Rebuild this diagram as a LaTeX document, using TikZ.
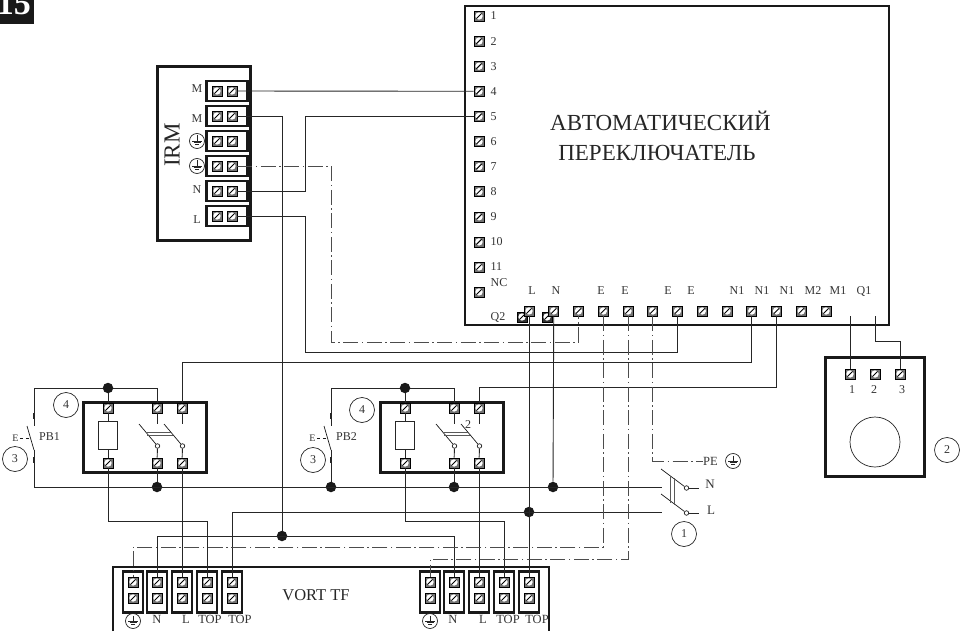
\documentclass[tikz,border=0pt]{standalone}
\usepackage{fontspec}
\setmainfont{Liberation Serif}

\tikzset{
    term/.style={rectangle, draw=black, fill=black!55, minimum size=10pt, inner sep=0pt, line width=0.6pt,
        path picture={
            \fill[white] (path picture bounding box.center) circle (3.7pt);
            \draw[black, line width=1pt] ([xshift=-2.6pt,yshift=-2.6pt]path picture bounding box.center) -- ([xshift=2.6pt,yshift=2.6pt]path picture bounding box.center);
        }},
    box/.style={rectangle, draw=black!90, line width=2.6pt, inner sep=0pt},
    stripbox/.style={box, minimum width=41pt, minimum height=20pt},
    vstripbox/.style={box, minimum width=20pt, minimum height=41pt},
    wire/.style={draw=black!85, line width=0.9pt},
    earthwire/.style={draw=black!70, line width=0.9pt, dash pattern=on 15pt off 3.5pt on 1.5pt off 3.5pt},
    heavy/.style={draw=black!85, line width=2pt},
    lever/.style={draw=black!90, line width=0.7pt},
    bar/.style={draw=black!65, line width=0.8pt},
    junction/.style={circle, fill=black!90, inner sep=0pt, minimum size=10.5pt},
    contact/.style={circle, draw=black!90, fill=white, inner sep=0pt, minimum size=4.5pt, line width=0.7pt},
    numcircle/.style={circle, draw=black!85, line width=0.7pt, inner sep=0pt, minimum size=25pt, font=\fontsize{12}{14}\selectfont, text=black!80},
    lbl/.style={font=\fontsize{12}{14}\selectfont, text=black!80, inner sep=1pt},
    gnd/.style={circle, draw=black!85, line width=0.7pt, inner sep=0pt, minimum size=15pt,
        path picture={
            \draw[black!85, line width=0.6pt] ([yshift=5.5pt]path picture bounding box.center) -- (path picture bounding box.center);
            \draw[black!85, line width=0.7pt] ([xshift=-5pt]path picture bounding box.center) -- ([xshift=5pt]path picture bounding box.center);
            \draw[black!85, line width=0.7pt] ([xshift=-3.5pt,yshift=-1.8pt]path picture bounding box.center) -- ([xshift=3.5pt,yshift=-1.8pt]path picture bounding box.center);
            \draw[black!85, line width=0.7pt] ([xshift=-2pt,yshift=-3.6pt]path picture bounding box.center) -- ([xshift=2pt,yshift=-3.6pt]path picture bounding box.center);
        }},
}

\begin{document}
\begin{tikzpicture}[x=1pt,y=-1pt]

\useasboundingbox (0,0) rectangle (965,631);

% Corner tab with the figure number
\begin{scope}
\clip (0,0) rectangle (34,24);
\fill[black!90] (0,0) rectangle (34,24);
\node[anchor=base, text=white, font=\fontsize{34}{34}\selectfont\bfseries, inner sep=0pt] (tab) at (14,15) {15};
\end{scope}

%%%%%%%%%%%%%%%%%%%% Automatic switch %%%%%%%%%%%%%%%%%%%%%%%%%%

\node[box, minimum width=424pt, minimum height=319pt] (ats) at (677,165.5) {};
\node[font=\fontsize{23}{26}\selectfont, text=black!85, inner sep=0pt] (atstexta) at (660.5,121) {АВТОМАТИЧЕСКИЙ};
\node[font=\fontsize{23}{26}\selectfont, text=black!85, inner sep=0pt] (atstextb) at (657,153) {ПЕРЕКЛЮЧАТЕЛЬ};

%bottom terminals
\node[term, fill=black!80] (q1) at (522,317) {};
\node[term, fill=black!80] (q2) at (547,317) {};
\foreach \index in {1,...,13}
{
    \node[term] (b\index) at ({529+(\index-1)*24.75},311) {};
}
\node[lbl] (q2label) at (498,317) {Q2};

%left terminals
\foreach \index in {1,...,11}
{
    \node[term, label={[lbl, label distance=5pt]right:\index}] (s\index) at (479,{16+(\index-1)*25.1}) {};
}
\node[term] (s12) at (479,292) {};
\node[lbl] (nclabel) at (499,283) {NC};

%bottom labels
\foreach \index/\xpos/\txt in {1/532/L, 2/556/N, 3/601/E, 4/625/E, 5/668/E, 6/691/E, 7/737/N1, 8/762/N1, 9/787/N1, 10/813/M2, 11/838/M1, 12/864/Q1}
{
    \node[lbl] (blabel\index) at (\xpos,291) {\txt};
}

%%%%%%%%%%%%%%%%%%%% IRM %%%%%%%%%%%%%%%%%%%%%%%%%%

\node[box, minimum width=93pt, minimum height=174pt] (irm) at (204,153.5) {};
\node[rotate=90, font=\fontsize{23}{25}\selectfont, text=black!85, inner sep=0pt] (irmtext) at (172,145) {IRM};

\foreach \index in {1,...,6}
{
    \node[stripbox] (irmstrip\index) at (227,{91+(\index-1)*25}) {};
    \node[term] (irma\index) at (217,{91+(\index-1)*25}) {};
    \node[term] (irmb\index) at (232,{91+(\index-1)*25}) {};
}

\node[lbl] (irml1) at (197,89) {M};
\node[lbl] (irml2) at (197,119) {M};
\node[gnd] (irml3) at (197,141) {};
\node[gnd] (irml4) at (197,166) {};
\node[lbl] (irml5) at (197,190) {N};
\node[lbl] (irml6) at (197,220) {L};

%%%%%%%%%%%%%%%%%%%% Selector %%%%%%%%%%%%%%%%%%%%%%%%%%

\node[box, minimum width=99pt, minimum height=119pt] (sel) at (875,417) {};
\node[circle, draw=black!85, line width=0.7pt, minimum size=50pt, inner sep=0pt] (knob) at (875,442) {};
\foreach \index/\xpos in {1/852, 2/874, 3/902}
{
    \node[term] (k\index) at ({850+(\index-1)*25},374) {};
    \node[lbl] (klabel\index) at (\xpos,390) {\index};
}
\node[numcircle] (n2) at (947,450) {2};

%%%%%%%%%%%%%%%%%%%% Relays and push buttons %%%%%%%%%%%%%%%%%%%%%%%%%%

\foreach \index/\xo/\xc/\yc/\xf/\yf in {1/0/15/459/66/405, 2/297/313/460/362/410}
{
    \node[box, minimum width=123pt, minimum height=70pt] (relay\index) at ({145+\xo},437.5) {};

    % top and bottom terminals
    \node[term] (ra\index) at ({108+\xo},408) {};
    \node[term] (rb\index) at ({157+\xo},408) {};
    \node[term] (rc\index) at ({182+\xo},408) {};
    \node[term] (rd\index) at ({108+\xo},463) {};
    \node[term] (re\index) at ({157+\xo},463) {};
    \node[term] (rf\index) at ({182+\xo},463) {};

    % coil
    \node[rectangle, draw=black!85, line width=0.8pt, minimum width=19pt, minimum height=28pt, inner sep=0pt] (coil\index) at ({108+\xo},435) {};
    \path [wire] (ra\index) edge (coil\index);
    \path [wire] (coil\index) edge (rd\index);

    % changeover contacts
    \node[contact] (cb\index) at ({157.5+\xo},446) {};
    \node[contact] (cc\index) at ({182.5+\xo},446) {};
    \draw[wire] (rb\index) -- ({157+\xo},424);
    \draw[wire] (rc\index) -- ({182+\xo},424);
    \draw[wire] (cb\index) -- (re\index);
    \draw[wire] (cc\index) -- (rf\index);
    \draw[lever] ({139+\xo},424) -- (cb\index);
    \draw[lever] ({164+\xo},424) -- (cc\index);
    \draw[bar] ({146+\xo},432) -- ({172+\xo},432);
    \draw[bar] ({147+\xo},435) -- ({173+\xo},435);

    % push button
    \node[lbl, font=\fontsize{10}{12}\selectfont] (pe\index) at ({15.5+\xo},438) {E};
    \node[lbl, anchor=west] (pb\index) at ({38+\xo},437) {PB\index};
    \coordinate (pbtop\index) at ({34+\xo},388);
    \coordinate (pbup\index) at ({34+\xo},426);
    \coordinate (pblow\index) at ({34+\xo},450);
    \coordinate (pbend\index) at ({34+\xo},487);
    \draw[wire] (rb\index) |- (pbtop\index) -- (pbup\index);
    \draw[wire] (pblow\index) -- (pbend\index);
    \draw[lever] ({27+\xo},426) -- (pblow\index);
    \draw[heavy] ({34+\xo},413) -- ({34+\xo},419);
    \draw[heavy] ({34+\xo},457) -- ({34+\xo},463);
    \draw[lever, dashed] (pe\index) -- ({31+\xo},438);

    % top junction
    \node[junction] (jt\index) at ({108+\xo},388) {};
    \path [wire] (jt\index) edge (ra\index);

    % numbered marks
    \node[numcircle] (n3\index) at (\xc,\yc) {3};
    \node[numcircle] (n4\index) at (\xf,\yf) {4};
}
\node[lbl] (two) at (468,425) {2};

%%%%%%%%%%%%%%%%%%%% VORT TF %%%%%%%%%%%%%%%%%%%%%%%%%%

\draw[box] (113,631) -- (113,567) -- (549,567) -- (549,631);
\node[font=\fontsize{16.5}{18}\selectfont, text=black!85, inner sep=0pt] (vort) at (316,595) {VORT TF};

\foreach \index/\xpos in {1/133, 2/157, 3/182, 4/207, 5/232, 6/430, 7/454, 8/479, 9/504, 10/529}
{
    \node[vstripbox] (vstrip\index) at (\xpos,592) {};
    \node[term] (va\index) at (\xpos,582) {};
    \node[term] (vb\index) at (\xpos,598) {};
}

\node[gnd] (vl1) at (133,621) {};
\node[gnd] (vl6) at (430,621) {};
\foreach \index/\xpos/\txt in {2/157/N, 3/186/L, 4/210/TOP, 5/240/TOP, 7/453/N, 8/483/L, 9/508/TOP, 10/537/TOP}
{
    \node[lbl, font=\fontsize{12.5}{14}\selectfont] (vl\index) at (\xpos,619) {\txt};
}

%%%%%%%%%%%%%%%%%%%% Supply switch %%%%%%%%%%%%%%%%%%%%%%%%%%

\node[contact] (csn) at (686.5,488) {};
\node[contact] (csl) at (686.5,513) {};
\coordinate (rne) at (662,487);
\coordinate (rle) at (662,512);
\draw[lever] (661,469) -- (csn);
\draw[lever] (661,494) -- (csl);
\draw[bar] (670,476) -- (670,503);
\draw[bar] (674,478) -- (674,505);
\node[lbl, font=\fontsize{13}{15}\selectfont] (ln) at (710,484) {N};
\node[lbl, font=\fontsize{13}{15}\selectfont] (ll) at (711,510) {L};
\coordinate (lnw) at (699,488);
\coordinate (llw) at (699,513);
\draw[wire] (csn) -- (lnw);
\draw[wire] (csl) -- (llw);
\node[lbl, font=\fontsize{12.5}{15}\selectfont, anchor=west, inner sep=0pt] (pe) at (703,461) {PE};
\node[gnd] (gpe) at (733,461) {};
\node[numcircle] (n1) at (684,534) {1};

%%%%%%%%%%%%%%%%%%%% Wires %%%%%%%%%%%%%%%%%%%%%%%%%%

%junctions on the rails
\foreach \index/\xpos in {1/157, 2/331, 3/454, 4/553}
{
    \node[junction] (jn\index) at (\xpos,487) {};
}
\node[junction] (jl) at (529,512) {};
\node[junction] (jm) at (282,536) {};

%irm to switch
\draw[wire] (irmb1) -- (s4);
\draw[wire] (irmb2) -| (jm);
\draw[wire] (s5) -| (305,191) -- (irmb5);
\draw[wire] (irmb6) -| (305,352) -| (b7);

%neutral and line rails
\draw[wire] (pbend1) -- (rne);
\draw[wire] (jn1) -- (re1);
\draw[wire] (jn3) -- (re2);
\draw[wire] (jn2) -- (pbend2);
\draw[wire] (va5) |- (rle);
\draw[wire] (b2) -- (jn4);
\draw[wire] (b1) -- (va10);

%contacts to N1
\draw[wire] (b10) |- (182,362) -- (rc1);
\draw[wire] (b11) |- (479,387) -- (rc2);

%relays to vort
\draw[wire] (rf1) -- (va3);
\draw[wire] (rf2) -- (va8);
\draw[wire] (rd1) -- (108,521) -| (va4);
\draw[wire] (rd2) -- (405,521) -| (va9);
\draw[wire] (va2) |- (454,536) -- (va7);

%selector
\draw[wire] (k1) -- (850,316);
\draw[wire] (875,316) -- (875,341) -| (k3);

%earth lines
\draw[earthwire] (irmb4) -| (331,342) -| (b3);
\draw[earthwire] (b4) |- (133,547) -- (va1);
\draw[earthwire] (b5) |- (430,559) -- (va6);
\draw[earthwire] (b6) |- (pe);

\end{tikzpicture}
\end{document}
